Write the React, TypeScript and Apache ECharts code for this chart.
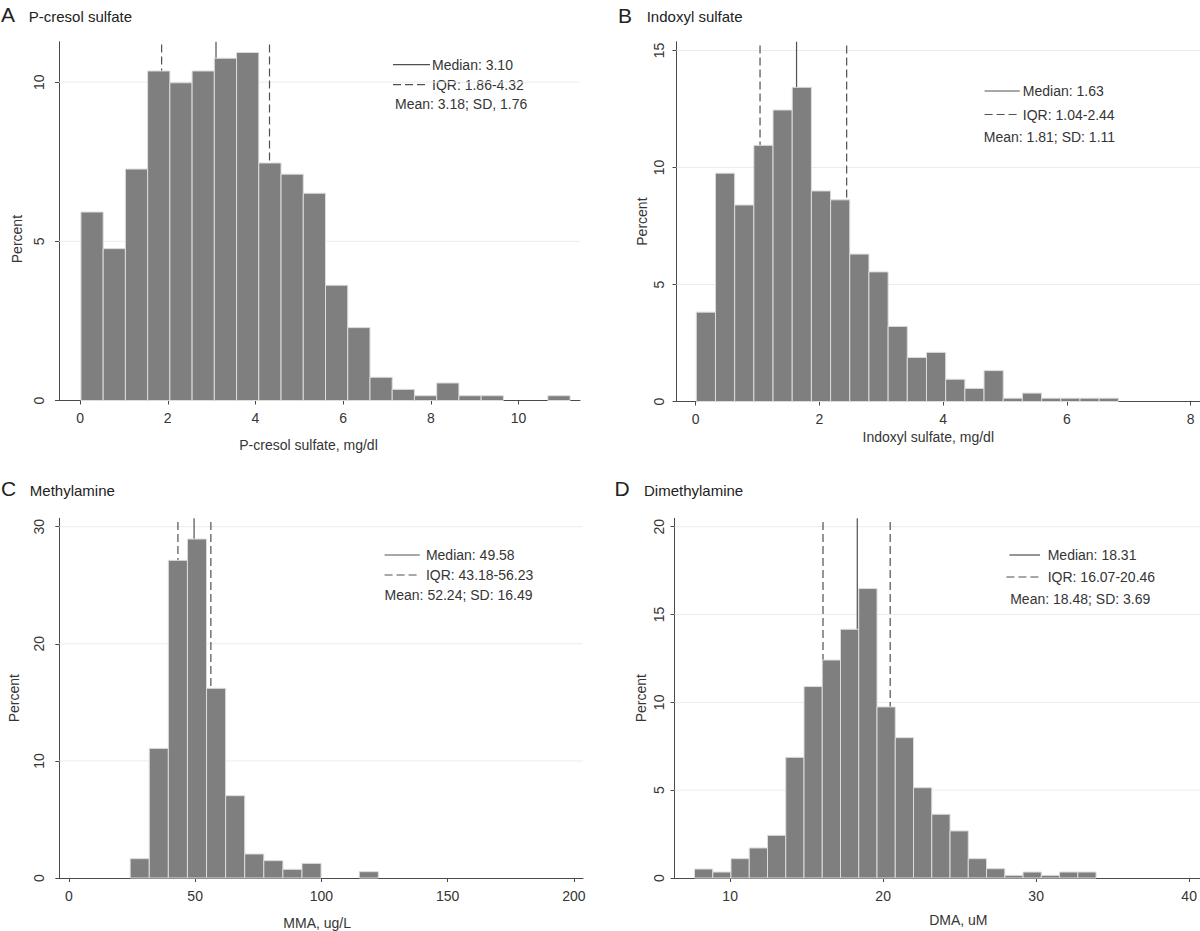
import React, { useEffect, useRef } from "react";
import * as echarts from "echarts";

// ---------- Data ----------
// Panel A: P-cresol sulfate
const aBinStart = 0.02;
const aBinWidth = 0.507;
const aPercent = [5.92, 4.77, 7.27, 10.35, 9.98, 10.35, 10.75, 10.93, 7.46, 7.11, 6.51, 3.62, 2.29, 0.73, 0.35, 0.15, 0.55, 0.15, 0.15, 0, 0, 0.15];
const aXTicks = [0, 2, 4, 6, 8, 10];
const aYTicks = [0, 5, 10];
const aMedian = 3.1;
const aIqr = [1.86, 4.32];
const aLegend = ["Median: 3.10", "IQR: 1.86-4.32", "Mean: 3.18; SD, 1.76"];

// Panel B: Indoxyl sulfate
const bBinStart = 0.01;
const bBinWidth = 0.31;
const bPercent = [3.82, 9.76, 8.4, 10.95, 12.46, 13.43, 9.0, 8.62, 6.3, 5.54, 3.21, 1.88, 2.1, 0.95, 0.56, 1.32, 0.14, 0.36, 0.14, 0.14, 0.14, 0.14];
const bXTicks = [0, 2, 4, 6, 8];
const bYTicks = [0, 5, 10, 15];
const bMedian = 1.63;
const bIqr = [1.04, 2.44];
const bLegend = ["Median: 1.63", "IQR: 1.04-2.44", "Mean: 1.81; SD: 1.11"];

// Panel C: Methylamine
const cBinStart = 24.27;
const cBinWidth = 7.56;
const cPercent = [1.65, 11.07, 27.13, 28.95, 16.2, 7.03, 2.05, 1.48, 0.74, 1.25, 0, 0, 0.54];
const cXTicks = [0, 50, 100, 150, 200];
const cYTicks = [0, 10, 20, 30];
const cMedian = 49.58;
const cIqr = [43.18, 56.23];
const cLegend = ["Median: 49.58", "IQR: 43.18-56.23", "Mean: 52.24; SD: 16.49"];

// Panel D: Dimethylamine
const dBinStart = 7.67;
const dBinWidth = 1.193;
const dPercent = [0.51, 0.34, 1.1, 1.71, 2.43, 6.87, 10.9, 12.41, 14.16, 16.48, 9.74, 7.99, 5.14, 3.63, 2.68, 1.1, 0.53, 0.15, 0.34, 0.15, 0.34, 0.34];
const dXTicks = [10, 20, 30, 40];
const dYTicks = [0, 5, 10, 15, 20];
const dMedian = 18.31;
const dIqr = [16.07, 20.46];
const dLegend = ["Median: 18.31", "IQR: 16.07-20.46", "Mean: 18.48; SD: 3.69"];

const panelLetters = ["A", "B", "C", "D"];
const panelTitles = ["P-cresol sulfate", "Indoxyl sulfate", "Methylamine", "Dimethylamine"];
const xAxisNames = ["P-cresol sulfate, mg/dl", "Indoxyl sulfate, mg/dl", "MMA, ug/L", "DMA, uM"];
const yAxisName = "Percent";

// ---------- Styling / layout ----------
const FONT = '"Liberation Sans", Arial, Helvetica, sans-serif';
const TEXT = "#353535";
const AXIS = "#4a4a4a";
const BAR = "#7f7f7f";
const BAR_EDGE = "#dcdcdc";
const GRIDLINE = "#ececec";
const REFLINE = "#505050";
const DASH = [8, 4];

const layouts = [
  {
    grid: { left: 59, top: 41.7, width: 521, height: 358.8 },
    xMin: -0.48, xMax: 11.4, yMax: 11.27,
    xLabelMargin: 10, xNameGap: 37, xNamePad: [0, 22, 0, 0],
    yLabelMargin: 13, yNameGap: 35, yNamePad: [0, 36, 0, 0],
    letter: { x: 1, y: 14.5 }, title: { x: 28.7, y: 16.5 },
    leg: { medX1: 393, medX2: 430, medY: 64.7, iqrX1: 393, iqrX2: 428, iqrY: 84.7, textX: 432, meanX: 395, meanY: 104 },
  },
  {
    grid: { left: 676.5, top: 41.7, width: 523.5, height: 359.8 },
    xMin: -0.31, xMax: 8.15, yMax: 15.38,
    xLabelMargin: 10, xNameGap: 28, xNamePad: [0, 20, 0, 0],
    yLabelMargin: 11, yNameGap: 28, yNamePad: [0, 0, 0, 0],
    letter: { x: 618, y: 15 }, title: { x: 646.7, y: 16.5 },
    leg: { medX1: 984.6, medX2: 1019.8, medY: 91, iqrX1: 984.6, iqrX2: 1019.8, iqrY: 114.5, textX: 1022.8, meanX: 983.8, meanY: 137 },
  },
  {
    grid: { left: 59.3, top: 518.3, width: 523.7, height: 359.7 },
    xMin: -3.8, xMax: 203.6, yMax: 30.72,
    xLabelMargin: 11, xNameGap: 38, xNamePad: [0, 8, 0, 0],
    yLabelMargin: 13, yNameGap: 38, yNamePad: [0, 0, 0, 0],
    letter: { x: 1, y: 488 }, title: { x: 29.8, y: 490 },
    leg: { medX1: 384.6, medX2: 419.8, medY: 555, iqrX1: 384.6, iqrX2: 419.8, iqrY: 575, textX: 425.9, meanX: 384.6, meanY: 595 },
  },
  {
    grid: { left: 674.6, top: 518.3, width: 525.4, height: 359.7 },
    xMin: 6.37, xMax: 40.71, yMax: 20.48,
    xLabelMargin: 11, xNameGap: 35, xNamePad: [0, 0, 0, 42],
    yLabelMargin: 9, yNameGap: 27, yNamePad: [0, 0, 0, 0],
    letter: { x: 614.5, y: 488 }, title: { x: 644, y: 490 },
    leg: { medX1: 1009.4, medX2: 1040, medY: 555, iqrX1: 1006.4, iqrX2: 1040, iqrY: 577, textX: 1047.7, meanX: 1010.2, meanY: 599 },
  },
];

const panelData = [
  { start: aBinStart, width: aBinWidth, values: aPercent, xTicks: aXTicks, yTicks: aYTicks, median: aMedian, iqr: aIqr, legend: aLegend },
  { start: bBinStart, width: bBinWidth, values: bPercent, xTicks: bXTicks, yTicks: bYTicks, median: bMedian, iqr: bIqr, legend: bLegend },
  { start: cBinStart, width: cBinWidth, values: cPercent, xTicks: cXTicks, yTicks: cYTicks, median: cMedian, iqr: cIqr, legend: cLegend },
  { start: dBinStart, width: dBinWidth, values: dPercent, xTicks: dXTicks, yTicks: dYTicks, median: dMedian, iqr: dIqr, legend: dLegend },
];

function buildOption() {
  const grid: any[] = [];
  const xAxis: any[] = [];
  const yAxis: any[] = [];
  const series: any[] = [];
  const graphic: any[] = [];

  panelData.forEach((p, i) => {
    const L = layouts[i];
    grid.push({ ...L.grid, containLabel: false });
    xAxis.push({
      type: "value",
      gridIndex: i,
      min: L.xMin,
      max: L.xMax,
      name: xAxisNames[i],
      nameLocation: "middle",
      nameGap: L.xNameGap,
      nameTextStyle: { fontFamily: FONT, fontSize: 14, color: TEXT, padding: L.xNamePad },
      axisLine: { show: true, onZero: false, lineStyle: { color: AXIS, width: 1 } },
      axisTick: { show: true, length: 4, customValues: p.xTicks, lineStyle: { color: AXIS, width: 1 } },
      axisLabel: { show: true, customValues: p.xTicks, margin: L.xLabelMargin, fontFamily: FONT, fontSize: 14, color: TEXT },
      splitLine: { show: false },
    });
    yAxis.push({
      type: "value",
      gridIndex: i,
      min: 0,
      max: L.yMax,
      name: yAxisName,
      nameLocation: "middle",
      nameGap: L.yNameGap,
      nameTextStyle: { fontFamily: FONT, fontSize: 14, color: TEXT, padding: L.yNamePad },
      axisLine: { show: true, onZero: false, lineStyle: { color: AXIS, width: 1 } },
      axisTick: { show: true, length: 4, customValues: p.yTicks, lineStyle: { color: AXIS, width: 1 } },
      axisLabel: { show: true, customValues: p.yTicks, rotate: 90, margin: L.yLabelMargin, fontFamily: FONT, fontSize: 14, color: TEXT },
      splitLine: { show: false },
    });

    // horizontal grid lines
    p.yTicks.filter((t) => t > 0).forEach((t) => {
      series.push({
        type: "line",
        xAxisIndex: i,
        yAxisIndex: i,
        z: 0,
        silent: true,
        showSymbol: false,
        symbol: "none",
        lineStyle: { color: GRIDLINE, width: 1 },
        data: [[L.xMin, t], [L.xMax, t]],
      });
    });

    // median and IQR reference lines
    const refs = [
      { v: p.median, dashed: false },
      { v: p.iqr[0], dashed: true },
      { v: p.iqr[1], dashed: true },
    ];
    refs.forEach((r) => {
      series.push({
        type: "line",
        xAxisIndex: i,
        yAxisIndex: i,
        z: 1,
        silent: true,
        showSymbol: false,
        symbol: "none",
        lineStyle: { color: REFLINE, width: 1.2, type: r.dashed ? DASH : "solid" },
        data: [[r.v, 0], [r.v, L.yMax]],
      });
    });

    // histogram bars
    const bins = p.values.map((v, k) => [p.start + k * p.width, p.start + (k + 1) * p.width, v]);
    series.push({
      type: "custom",
      xAxisIndex: i,
      yAxisIndex: i,
      z: 3,
      silent: true,
      encode: { x: [0, 1], y: 2 },
      data: bins,
      renderItem: (params: any, api: any) => {
        const x0 = api.value(0);
        const x1 = api.value(1);
        const h = api.value(2);
        if (!h) return null;
        const p0 = api.coord([x0, 0]);
        const p1 = api.coord([x1, h]);
        return {
          type: "rect",
          shape: { x: p0[0], y: p1[1], width: p1[0] - p0[0], height: p0[1] - p1[1] },
          style: { fill: BAR, stroke: BAR_EDGE, lineWidth: 1 },
        };
      },
    });

    // titles
    graphic.push({
      type: "text",
      x: L.letter.x,
      y: L.letter.y,
      style: { text: panelLetters[i], fontFamily: FONT, fontSize: 21, fill: "#222", align: "left", verticalAlign: "middle" },
    });
    graphic.push({
      type: "text",
      x: L.title.x,
      y: L.title.y,
      style: { text: panelTitles[i], fontFamily: FONT, fontSize: 15, fill: "#222", align: "left", verticalAlign: "middle" },
    });

    // legend box
    const g = L.leg;
    graphic.push({
      type: "line",
      shape: { x1: g.medX1, y1: g.medY, x2: g.medX2, y2: g.medY },
      style: { stroke: REFLINE, lineWidth: 1.2 },
    });
    graphic.push({
      type: "line",
      shape: { x1: g.iqrX1, y1: g.iqrY, x2: g.iqrX2, y2: g.iqrY },
      style: { stroke: REFLINE, lineWidth: 1.2, lineDash: DASH },
    });
    graphic.push({
      type: "text",
      x: g.textX,
      y: g.medY,
      style: { text: p.legend[0], fontFamily: FONT, fontSize: 14, fill: TEXT, align: "left", verticalAlign: "middle" },
    });
    graphic.push({
      type: "text",
      x: g.textX,
      y: g.iqrY,
      style: { text: p.legend[1], fontFamily: FONT, fontSize: 14, fill: TEXT, align: "left", verticalAlign: "middle" },
    });
    graphic.push({
      type: "text",
      x: g.meanX,
      y: g.meanY,
      style: { text: p.legend[2], fontFamily: FONT, fontSize: 14, fill: TEXT, align: "left", verticalAlign: "middle" },
    });
  });

  return {
    animation: false,
    backgroundColor: "#ffffff",
    textStyle: { fontFamily: FONT },
    grid,
    xAxis,
    yAxis,
    series,
    graphic,
  };
}

export default function App() {
  const ref = useRef<HTMLDivElement | null>(null);
  useEffect(() => {
    if (!ref.current) return;
    const chart = echarts.init(ref.current, undefined, { renderer: "svg" });
    chart.setOption(buildOption() as any);
    return () => {
      chart.dispose();
    };
  }, []);
  return (
    <div
      ref={ref}
      style={{ position: "absolute", left: 0, top: 0, width: 1200, height: 931, background: "#ffffff" }}
    />
  );
}
